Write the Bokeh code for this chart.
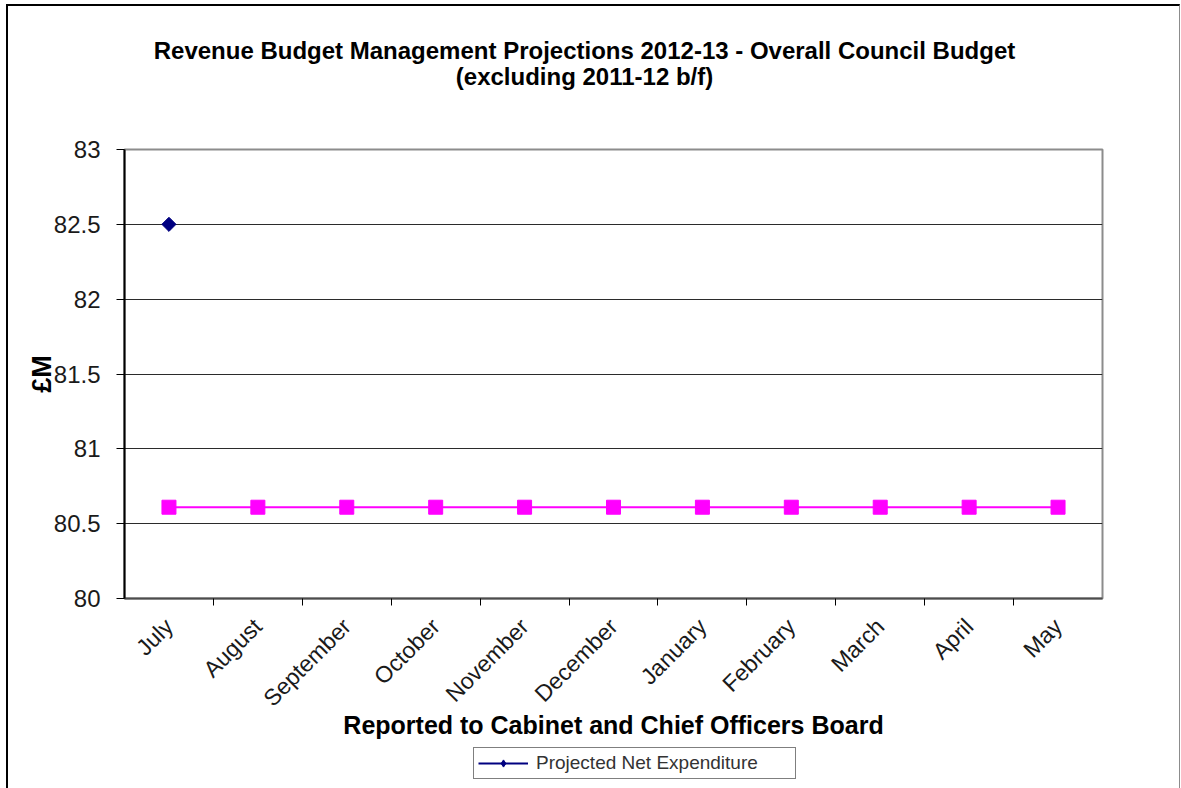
import math
from bokeh.plotting import figure
from bokeh.layouts import column
from bokeh.models import (Range1d, FactorRange, LinearAxis, CategoricalAxis, FixedTicker,
                          NumeralTickFormatter, Legend, LegendItem, ColumnDataSource, Label)
from bokeh.embed import file_html
from bokeh.resources import INLINE

# ---------------- data ----------------
months = ["July", "August", "September", "October", "November", "December",
          "January", "February", "March", "April", "May"]
projected_net_expenditure = [82.5, float("nan"), float("nan"), float("nan"), float("nan"),
                             float("nan"), float("nan"), float("nan"), float("nan"),
                             float("nan"), float("nan")]
budget = [80.61, 80.61, 80.61, 80.61, 80.61, 80.61, 80.61, 80.61, 80.61, 80.61, 80.61]
y_ticks = [80, 80.5, 81, 81.5, 82, 82.5, 83]
grid_ticks = [80, 80.5, 81, 81.5, 82, 82.5]
# category boundaries (used only for tick marks between months)
boundaries = ["b0", "b1", "b2", "b3", "b4", "b5", "b6", "b7", "b8", "b9", "b10", "b11"]

title_line1 = "Revenue Budget Management Projections 2012-13 - Overall Council Budget"
title_line2 = "(excluding 2011-12 b/f)"
x_title = "Reported to Cabinet and Chief Officers Board"
y_title = "£M"
legend_label = "Projected Net Expenditure"

FONT = "Liberation Sans"
W = 1171
H_TITLE, H_MAIN, H_LEG = 100, 641, 41

src_budget = ColumnDataSource(dict(month=months, value=budget))
src_proj = ColumnDataSource(dict(month=months, value=projected_net_expenditure))


def bare_figure(height, x_range):
    f = figure(width=W, height=height, x_range=x_range, y_range=Range1d(0, 1),
               output_backend="svg", toolbar_location=None, x_axis_location=None,
               y_axis_location=None, title=None,
               min_border_left=0, min_border_right=0, min_border_top=0, min_border_bottom=0)
    f.xgrid.visible = False
    f.ygrid.visible = False
    f.outline_line_color = None
    f.background_fill_color = "white"
    f.border_fill_color = "white"
    return f


# ---------------- title strip ----------------
tf = bare_figure(H_TITLE, Range1d(0, 1))
for txt, yy in ((title_line1, H_TITLE - 44), (title_line2, H_TITLE - 70)):
    tf.add_layout(Label(x=460, y=yy, x_units="screen", y_units="screen", text=txt,
                        text_font=FONT, text_font_size="24px", text_font_style="bold",
                        text_color="#000000", text_align="center", text_baseline="middle"))

# ---------------- main chart ----------------
p = figure(width=W, height=H_MAIN, x_range=FactorRange(*months), y_range=Range1d(80, 83),
           output_backend="svg", toolbar_location=None, x_axis_location=None,
           y_axis_location=None, title=None,
           min_border_left=116, min_border_right=77, min_border_top=43, min_border_bottom=149)
p.background_fill_color = "white"
p.border_fill_color = "white"
p.outline_line_color = "#8c8c8c"
p.outline_line_width = 2
p.xgrid.visible = False
p.ygrid.ticker = FixedTicker(ticks=grid_ticks)
p.ygrid.grid_line_color = "#2b2b2b"
p.ygrid.grid_line_width = 1

p.extra_x_ranges = {"bounds": FactorRange(factors=boundaries, range_padding=-1.0 / 12,
                                          range_padding_units="percent")}

# left y axis
yax = LinearAxis(ticker=FixedTicker(ticks=y_ticks), formatter=NumeralTickFormatter(format="0.[0]"))
yax.axis_line_color = "#000000"
yax.axis_line_width = 2
yax.major_tick_out = 8
yax.major_tick_in = 0
yax.major_tick_line_color = "#000000"
yax.minor_tick_line_color = None
yax.major_label_standoff = 16
yax.major_label_text_font = FONT
yax.major_label_text_font_size = "24px"
yax.major_label_text_color = "#1a1a1a"
yax.axis_label = y_title
yax.axis_label_text_font = FONT
yax.axis_label_text_font_size = "27px"
yax.axis_label_text_font_style = "bold"
yax.axis_label_text_color = "#000000"
yax.axis_label_standoff = -6
p.add_layout(yax, "left")

# bottom axis: boundary tick marks between months (labels not drawn)
bax = CategoricalAxis(x_range_name="bounds")
bax.axis_line_color = "#4d4d4d"
bax.axis_line_width = 2
bax.major_tick_out = 7
bax.major_tick_in = 0
bax.major_tick_line_color = "#000000"
bax.minor_tick_line_color = None
bax.major_label_standoff = 0
bax.major_label_text_font_size = "8px"
bax.major_label_text_color = None
p.add_layout(bax, "below")

# bottom axis: month labels
cax = CategoricalAxis()
cax.axis_line_color = None
cax.major_tick_line_color = None
cax.major_tick_out = 0
cax.major_tick_in = 0
cax.major_label_orientation = math.pi / 4
cax.major_label_standoff = 17
cax.major_label_text_font = FONT
cax.major_label_text_font_size = "23px"
cax.major_label_text_color = "#1a1a1a"
cax.axis_label = x_title
cax.axis_label_text_font = FONT
cax.axis_label_text_font_size = "25px"
cax.axis_label_text_font_style = "bold"
cax.axis_label_text_color = "#000000"
cax.axis_label_standoff = -12
p.add_layout(cax, "below")

p.line("month", "value", source=src_budget, line_color="#ff00ff", line_width=2)
p.scatter("month", "value", source=src_budget, marker="square", size=14,
          fill_color="#ff00ff", line_color="#ff00ff")
p.line("month", "value", source=src_proj, line_color="#000080", line_width=2)
p.scatter("month", "value", source=src_proj, marker="square", size=10, angle=math.pi / 4,
          fill_color="#000080", line_color="#000080")

# ---------------- legend strip ----------------
# same series, drawn in a strip whose y-range excludes it, so only its legend entry shows
lf = bare_figure(H_LEG, FactorRange(*months))
leg_line = lf.line("month", "value", source=src_proj, line_color="#000080", line_width=2)
leg_pts = lf.scatter("month", "value", source=src_proj, marker="diamond", size=9,
                     fill_color="#000080", line_color="#000080")
legend = Legend(items=[LegendItem(label=legend_label, renderers=[leg_line, leg_pts])],
                location=(349, 9), orientation="vertical")
legend.margin = 0
legend.padding = 4
legend.spacing = 0
legend.glyph_width = 50
legend.glyph_height = 18
legend.label_standoff = 8
legend.label_width = 255
legend.label_height = 19
legend.label_text_font = FONT
legend.label_text_font_size = "19px"
legend.label_text_color = "#333333"
legend.border_line_color = "#000000"
legend.border_line_width = 1
legend.background_fill_color = "white"
legend.background_fill_alpha = 1
lf.add_layout(legend, "center")

layout = column(tf, p, lf, spacing=0)
layout.margin = (4, 0, 0, 6)
layout.styles = {"border-left": "2px solid #000000", "border-top": "2px solid #000000",
                 "border-right": "1px solid #8c8c8c"}

open("out.html", "w").write(file_html(layout, INLINE))
